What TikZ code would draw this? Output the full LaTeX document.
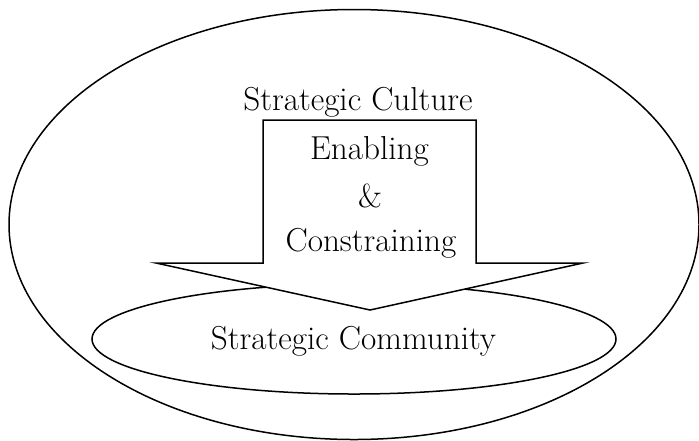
\documentclass[tikz,border=0pt]{standalone}
\usetikzlibrary{shapes.geometric}
\begin{document}
\begin{tikzpicture}[x=0.5pt,y=-0.5pt,
  outline/.style={draw=black,line width=0.75pt},
  lbl/.style={anchor=base,inner sep=0pt,font=\fontsize{16.6}{19}\selectfont}]
\useasboundingbox (0,0) rectangle (699,440);
% outer ellipse
\draw[outline] (354,224.5) ellipse [x radius=345, y radius=215];
% inner ellipse
\draw[outline] (354,339) ellipse [x radius=262, y radius=55];
% arrow
\draw[outline,fill=white,line join=miter] (263,120) -- (476,120) -- (476,263) -- (583,263) -- (370,310) -- (156,263) -- (263,263) -- cycle;
% labels
\node[lbl] (culture) at (358,110) {Strategic Culture};
\node[lbl] (enabling) at (369.5,159) {Enabling};
\node[lbl] (amp) at (370,207) {\&};
\node[lbl] (constr) at (371,251) {Constraining};
\node[lbl] (community) at (353.5,349) {Strategic Community};
\end{tikzpicture}
\end{document}
